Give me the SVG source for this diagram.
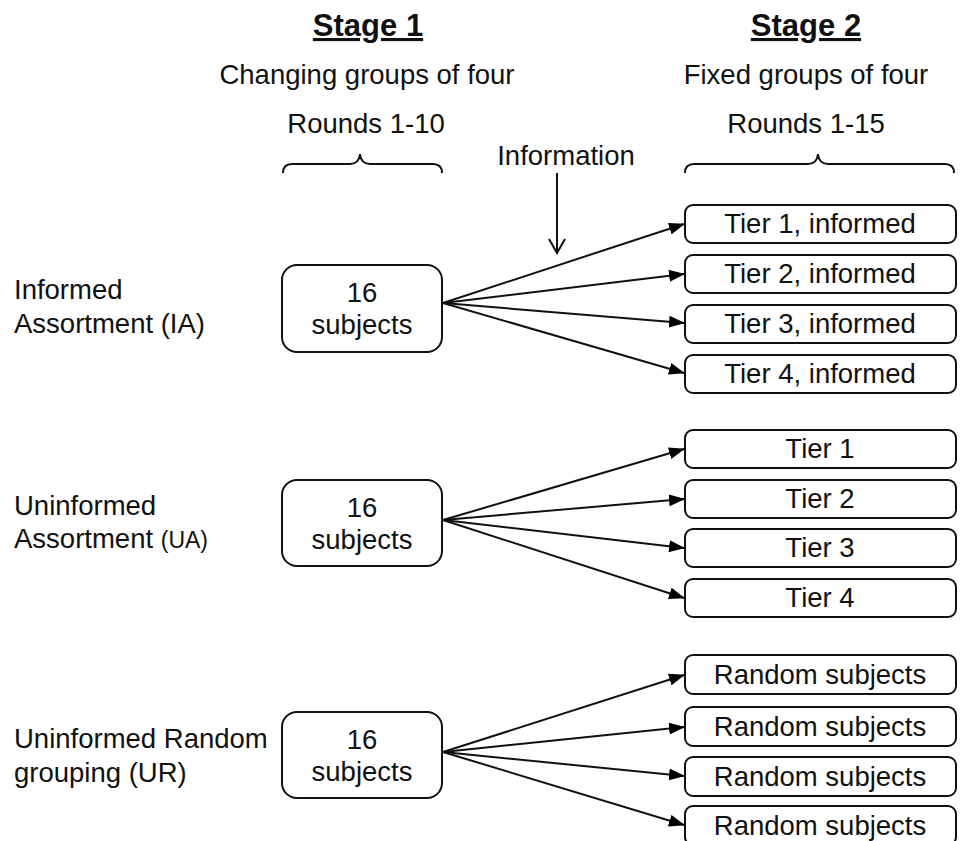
<svg xmlns="http://www.w3.org/2000/svg" width="961" height="841" viewBox="0 0 961 841">
<defs>
<marker id="ah" markerWidth="16" markerHeight="12" refX="15" refY="6" orient="auto" markerUnits="userSpaceOnUse">
<path d="M0,0 L16,6 L0,12 Z" fill="#000"/>
</marker>
<style>
text{font-family:"Liberation Sans",Arial,sans-serif;fill:#111;}
.h{font-size:31px;font-weight:bold;text-anchor:middle;text-decoration:underline;}
.s{font-size:27.5px;text-anchor:middle;}
.l{font-size:27.5px;}
.b1{fill:#fff;stroke:#111;stroke-width:2;}
.b2{fill:#fff;stroke:#111;stroke-width:2;}
.c{stroke:#111;stroke-width:2;fill:none;}
.br{stroke:#111;stroke-width:2;fill:none;}
</style>
</defs>
<rect width="961" height="841" fill="#fff"/>
<g id="headers">
<text class="h" x="368" y="36">Stage 1</text>
<text class="h" x="806" y="36">Stage 2</text>
<text class="s" x="367" y="84">Changing groups of four</text>
<text class="s" x="806" y="84">Fixed groups of four</text>
<text class="s" x="366" y="133">Rounds 1-10</text>
<text class="s" x="806" y="133">Rounds 1-15</text>
<text class="s" x="566" y="165">Information</text>
</g>
<g id="braces">
<path class="br" d="M283,173 Q283,164 292,164 L350,164 Q359,164 360,154 Q361,164 370,164 L433,164 Q442,164 442,173"/>
<path class="br" d="M685,173 Q685,164 694,164 L808,164 Q817,164 818,154 Q819,164 828,164 L945,164 Q954,164 954,173"/>
</g>
<g id="labels">
<text class="l" x="14" y="299">Informed</text>
<text class="l" x="14" y="333">Assortment (IA)</text>
<text class="l" x="14" y="515">Uninformed</text>
<text class="l" x="14" y="548">Assortment <tspan font-size="23">(UA)</tspan></text>
<text class="l" x="14" y="748">Uninformed Random</text>
<text class="l" x="14" y="782">grouping (UR)</text>
</g>
<g id="connectors">
<path class="c" d="M557,173 L557,253 M549,239 L557,253 L565,239"/>
<line class="c" x1="443" y1="303" x2="684" y2="224" marker-end="url(#ah)"/>
<line class="c" x1="443" y1="303" x2="684" y2="274" marker-end="url(#ah)"/>
<line class="c" x1="443" y1="303" x2="684" y2="323" marker-end="url(#ah)"/>
<line class="c" x1="443" y1="303" x2="684" y2="373" marker-end="url(#ah)"/>
<line class="c" x1="443" y1="520" x2="684" y2="449" marker-end="url(#ah)"/>
<line class="c" x1="443" y1="520" x2="684" y2="499" marker-end="url(#ah)"/>
<line class="c" x1="443" y1="520" x2="684" y2="548" marker-end="url(#ah)"/>
<line class="c" x1="443" y1="520" x2="684" y2="598" marker-end="url(#ah)"/>
<line class="c" x1="443" y1="752" x2="684" y2="675" marker-end="url(#ah)"/>
<line class="c" x1="443" y1="752" x2="684" y2="727" marker-end="url(#ah)"/>
<line class="c" x1="443" y1="752" x2="684" y2="776" marker-end="url(#ah)"/>
<line class="c" x1="443" y1="752" x2="684" y2="825" marker-end="url(#ah)"/>
</g>
<g id="ia-box"><rect class="b1" x="282" y="265" width="160" height="87" rx="15"/><text class="s" x="362" y="302">16</text><text class="s" x="362" y="334">subjects</text></g>
<g id="ua-box"><rect class="b1" x="282" y="480" width="160" height="86" rx="15"/><text class="s" x="362" y="517">16</text><text class="s" x="362" y="549">subjects</text></g>
<g id="ur-box"><rect class="b1" x="282" y="712" width="160" height="86" rx="15"/><text class="s" x="362" y="749">16</text><text class="s" x="362" y="781">subjects</text></g>
<g id="ia-t1"><rect class="b2" x="685" y="205" width="271" height="38" rx="8"/><text class="s" x="820" y="233">Tier 1, informed</text></g>
<g id="ia-t2"><rect class="b2" x="685" y="255" width="271" height="38" rx="8"/><text class="s" x="820" y="283">Tier 2, informed</text></g>
<g id="ia-t3"><rect class="b2" x="685" y="305" width="271" height="38" rx="8"/><text class="s" x="820" y="333">Tier 3, informed</text></g>
<g id="ia-t4"><rect class="b2" x="685" y="355" width="271" height="38" rx="8"/><text class="s" x="820" y="383">Tier 4, informed</text></g>
<g id="ua-t1"><rect class="b2" x="685" y="430" width="271" height="38" rx="8"/><text class="s" x="820" y="458">Tier 1</text></g>
<g id="ua-t2"><rect class="b2" x="685" y="480" width="271" height="38" rx="8"/><text class="s" x="820" y="508">Tier 2</text></g>
<g id="ua-t3"><rect class="b2" x="685" y="529" width="271" height="38" rx="8"/><text class="s" x="820" y="557">Tier 3</text></g>
<g id="ua-t4"><rect class="b2" x="685" y="579" width="271" height="38" rx="8"/><text class="s" x="820" y="607">Tier 4</text></g>
<g id="ur-r1"><rect class="b2" x="685" y="655" width="271" height="39" rx="8"/><text class="s" x="820" y="684">Random subjects</text></g>
<g id="ur-r2"><rect class="b2" x="685" y="707" width="271" height="39" rx="8"/><text class="s" x="820" y="736">Random subjects</text></g>
<g id="ur-r3"><rect class="b2" x="685" y="757" width="271" height="39" rx="8"/><text class="s" x="820" y="786">Random subjects</text></g>
<g id="ur-r4"><rect class="b2" x="685" y="806" width="271" height="39" rx="8"/><text class="s" x="820" y="835">Random subjects</text></g>
</svg>
